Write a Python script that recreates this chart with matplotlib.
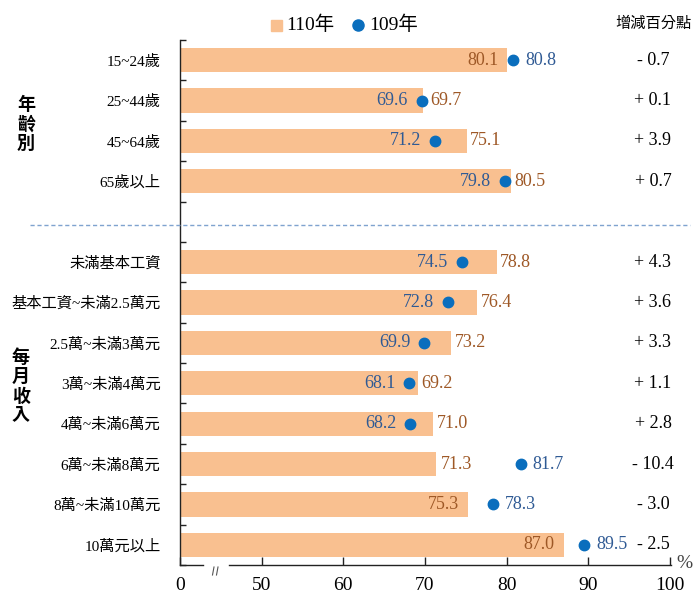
import matplotlib
matplotlib.use("Agg")
import matplotlib.pyplot as plt
from matplotlib.lines import Line2D
from matplotlib.patches import Rectangle

plt.rcParams['font.family'] = ['Liberation Serif', 'Noto Sans CJK TC', 'DejaVu Sans']

# ---------------- data ----------------
age_labels = ["15~24歲", "25~44歲", "45~64歲", "65歲以上"]
age_110 = [80.1, 69.7, 75.1, 80.5]
age_109 = [80.8, 69.6, 71.2, 79.8]
age_diff = ["- 0.7", "+ 0.1", "+ 3.9", "+ 0.7"]

inc_labels = ["未滿基本工資", "基本工資~未滿2.5萬元", "2.5萬~未滿3萬元", "3萬~未滿4萬元",
              "4萬~未滿6萬元", "6萬~未滿8萬元", "8萬~未滿10萬元", "10萬元以上"]
inc_110 = [78.8, 76.4, 73.2, 69.2, 71.0, 71.3, 75.3, 87.0]
inc_109 = [74.5, 72.8, 69.9, 68.1, 68.2, 81.7, 78.3, 89.5]
inc_diff = ["+ 4.3", "+ 3.6", "+ 3.3", "+ 1.1", "+ 2.8", "- 10.4", "- 3.0", "- 2.5"]

group_labels = ["年齡別", "每月收入"]
legend_labels = ["110年", "109年"]
diff_title = "增減百分點"
xtick_values = [50, 60, 70, 80, 90, 100]

# ---------------- style ----------------
BAR = "#F9C090"
DOT = "#0A6EBD"
BAR_TXT = "#9E5826"
DOT_TXT = "#2F5A94"

W, H = 693, 596
fig = plt.figure(figsize=(W / 100, H / 100), dpi=100)

def fx(px):
    return px / W

def fy(py):
    return 1 - py / H

ppu = 8.166  # pixels per data unit
xmin = 40.0          # where "0" is drawn (broken axis)
xmax = 100 + 1 / ppu

ax = fig.add_axes([fx(180), fy(565), fx(180 + (xmax - xmin) * ppu) - fx(180), fy(40) - fy(565)])

labels = age_labels + [None] + inc_labels
v110 = age_110 + [None] + inc_110
v109 = age_109 + [None] + inc_109
diffs = age_diff + [None] + inc_diff
n = len(labels)

ax.set_xlim(xmin, xmax)
ax.set_ylim(n - 0.5, -0.5)

for i, (b, d) in enumerate(zip(v110, v109)):
    if b is None:
        continue
    ax.barh(i, b - xmin, left=xmin, height=0.6, color=BAR, zorder=2)
    ax.plot(d, i, 'o', color=DOT, markersize=7.5, zorder=3)
    fs = 13
    if d > b:
        ax.text(d + 1.5, i, f"{d:.1f}", color=DOT_TXT, fontsize=fs, va='center', ha='left', zorder=4)
        if d - b < 5:
            ax.text(b - 1.1, i, f"{b:.1f}", color=BAR_TXT, fontsize=fs, va='center', ha='right', zorder=4)
        else:
            ax.text(b + 0.7, i, f"{b:.1f}", color=BAR_TXT, fontsize=fs, va='center', ha='left', zorder=4)
    else:
        ax.text(d - 1.7, i, f"{d:.1f}", color=DOT_TXT, fontsize=fs, va='center', ha='right', zorder=4)
        ax.text(max(b, d + 0.6) + 0.4, i, f"{b:.1f}", color=BAR_TXT, fontsize=fs, va='center', ha='left', zorder=4)

# diff column
for i, t in enumerate(diffs):
    if t is None:
        continue
    yp = ax.transData.transform((0, i))[1]
    fig.text(fx(653), yp / fig.dpi / fig.get_figheight(), t, fontsize=13, ha='center', va='center')
fig.text(fx(653), fy(24), diff_title, fontsize=11, ha='center', va='center')

# spines
for s in ['top', 'right', 'bottom']:
    ax.spines[s].set_visible(False)
ax.spines['left'].set_color('#222222')
ax.spines['left'].set_linewidth(1.0)

# bottom axis with break
yb = n - 0.5
ax.plot([xmin, xmin + 23 / ppu], [yb, yb], color='#222222', lw=1.0, clip_on=False, zorder=5)
ax.plot([xmin + 49 / ppu, xmax], [yb, yb], color='#222222', lw=1.0, clip_on=False, zorder=5)
for xp in (212.5, 216.5):
    fig.add_artist(Line2D([fx(xp), fx(xp + 1.5)], [fy(575), fy(567)], color='#555555', lw=0.8))

# x ticks
ax.set_xticks([xmin] + xtick_values)
ax.set_xticklabels(["0"] + [str(v) for v in xtick_values], fontsize=14)
ax.tick_params(axis='x', direction='in', length=6, width=1.0, pad=9, color='#222222')

# y ticks: boundaries as major, labels as minor
ax.set_yticks([k - 0.5 for k in range(n + 1)])
ax.set_yticklabels([])
ax.tick_params(axis='y', which='major', direction='in', length=4, width=1.0, color='#222222')
centers = [i for i, l in enumerate(labels) if l is not None]
ax.set_yticks(centers, minor=True)
ax.set_yticklabels([l for l in labels if l is not None], minor=True, fontsize=11)
ax.tick_params(axis='y', which='minor', length=0, pad=14)

# percent sign
fig.text(fx(684), fy(563), "%", fontsize=14, ha='center', va='center', color='#444444')

# dashed separator
fig.add_artist(Line2D([fx(30), fx(690)], [fy(225), fy(225)], color='#7FA3CF', lw=1.0,
                      linestyle=(0, (3, 2))))

# group labels
fig.text(fx(26), fy(125), "\n".join(group_labels[0]), fontsize=13, fontweight='bold',
         ha='center', va='center', linespacing=1.15)
fig.text(fx(21), fy(387), "\n".join(group_labels[1]), fontsize=13, fontweight='bold',
         ha='center', va='center', linespacing=1.15)

# legend
fig.add_artist(Rectangle((fx(271), fy(31)), fx(11), fy(20) - fy(31), color=BAR))
fig.text(fx(286), fy(25), legend_labels[0], fontsize=14, ha='left', va='center')
fig.add_artist(Line2D([fx(358)], [fy(25)], marker='o', color=DOT, markersize=8, linestyle='none'))
fig.text(fx(369), fy(25), legend_labels[1], fontsize=14, ha='left', va='center')

fig.savefig("out.png", dpi=100)
